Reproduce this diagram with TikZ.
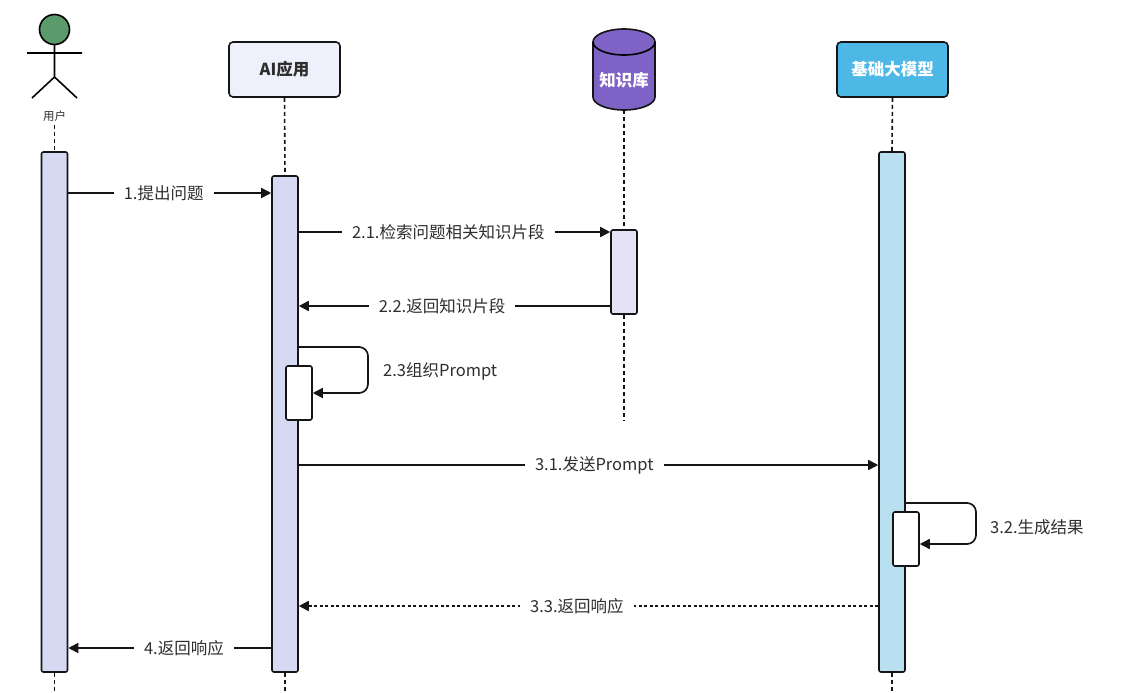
\documentclass[tikz,border=0pt]{standalone}
\usepackage{fontspec}
\setmainfont{Noto Sans CJK SC}
\usetikzlibrary{arrows.meta}
\definecolor{stroke}{HTML}{151515}
\definecolor{txt}{HTML}{2E2E2E}
\definecolor{headgreen}{HTML}{5B9A6B}
\definecolor{lav}{HTML}{D6D9F2}
\definecolor{aibox}{HTML}{EEF0FB}
\definecolor{kbpurple}{HTML}{7E62C6}
\definecolor{kbact}{HTML}{E7E1F8}
\definecolor{skyblue}{HTML}{4DB8E6}
\definecolor{skyact}{HTML}{B8E0F0}
\tikzset{
  act/.style={draw=stroke, line width=1.6pt, rounded corners=2pt, minimum width=26pt, inner sep=0pt},
  head/.style={draw=stroke, line width=1.6pt, rounded corners=4pt, minimum width=111pt, minimum height=55pt, font=\fontsize{16.5}{18}\selectfont\bfseries},
  life/.style={draw=stroke, line width=1.6pt, dash pattern=on 4pt off 3pt},
  msg/.style={draw=stroke, line width=1.7pt, -{Triangle[length=10pt,width=10pt]}},
  reply/.style={msg, dash pattern=on 3pt off 2.5pt},
  lbl/.style={fill=white, text=txt, inner xsep=10pt, inner ysep=2pt, font=\fontsize{16.5}{18}\selectfont},
  sidelbl/.style={text=txt, inner sep=0pt, anchor=west, font=\fontsize{16.5}{18}\selectfont}
}
\begin{document}
\begin{tikzpicture}[x=1pt,y=-1pt]
\useasboundingbox[fill=white] (0,0) rectangle (1122,693);

% actor
\draw[stroke, line width=1.6pt, fill=headgreen] (54.5,29.5) circle[radius=15pt];
\draw[stroke, line width=1.6pt] (54.5,44.5) -- (54.5,77) (27,53) -- (82,53)
  (32,98) -- (54.5,77) -- (77,98);
\node[text=txt, font=\fontsize{11.5}{12}\selectfont] (user) at (54.5,116) {用户};

% heads
\node[head, fill=aibox, text=txt] (ai) at (284.5,69.5) {AI应用};
\node[head, fill=skyblue, text=white] (llm) at (892.5,69.5) {基础大模型};

% knowledge base cylinder
\filldraw[draw=stroke, fill=kbpurple, line width=1.6pt]
  (593,42) -- (593,97) .. controls (593,104.2) and (607.1,110) .. (624,110)
  .. controls (640.9,110) and (655,104.2) .. (655,97) -- (655,42)
  .. controls (655,34.8) and (640.9,29) .. (624,29)
  .. controls (607.1,29) and (593,34.8) .. (593,42) -- cycle;
\draw[stroke, line width=1.6pt] (593,42) .. controls (593,49.2) and (607.1,55) .. (624,55)
  .. controls (640.9,55) and (655,49.2) .. (655,42);
\node[text=white, font=\fontsize{16.5}{18}\selectfont\bfseries] (kb) at (624,80) {知识库};
\coordinate (kbbot) at (624,110);

% activation bars
\node[act, fill=lav, minimum height=520pt] (uA) at (54.5,412) {};
\node[act, fill=lav, minimum height=496pt] (aA) at (285,424) {};
\node[act, fill=kbact, minimum height=84pt] (kA) at (624,272) {};
\node[act, fill=skyact, minimum height=520pt] (mA) at (892,412) {};

% lifelines
\draw[life] (user.south) -- (uA.north);
\draw[life] (uA.south) -- (54.5,693);
\draw[life] (ai.south) -- (aA.north);
\draw[life] (aA.south) -- (285,693);
\draw[life] (kbbot) -- (kA.north);
\draw[life] (kA.south) -- (624,420);
\draw[life] (llm.south) -- (mA.north);
\draw[life] (mA.south) -- (892,693);

% self activation boxes
\node[act, fill=white, minimum height=54pt] (aS) at (299,393) {};
\node[act, fill=white, minimum height=54pt] (mS) at (906,539) {};

% messages
\draw[msg] (uA.east |- 0,193) -- node[lbl, pos=0.47] {1.提出问题} (aA.west |- 0,193);
\draw[msg] (aA.east |- 0,232) -- node[lbl, pos=0.48] {2.1.检索问题相关知识片段} (kA.west |- 0,232);
\draw[msg] (kA.west |- 0,306) -- node[lbl, pos=0.54] {2.2.返回知识片段} (aA.east |- 0,306);
\draw[msg, rounded corners=9pt] (aA.east |- 0,347) -- (368,347) -- (368,393) -- (aS.east |- 0,393);
\node[sidelbl] (l23) at (383,371) {2.3组织Prompt};
\draw[msg] (aA.east |- 0,465) -- node[lbl, pos=0.51] {3.1.发送Prompt} (mA.west |- 0,465);
\draw[msg, rounded corners=9pt] (mA.east |- 0,503) -- (976,503) -- (976,544) -- (mS.east |- 0,544);
\node[sidelbl] (l32) at (990,527) {3.2.生成结果};
\draw[reply] (mA.west |- 0,606) -- node[lbl, pos=0.52] {3.3.返回响应} (aA.east |- 0,606);
\draw[msg] (aA.west |- 0,648) -- node[lbl, pos=0.43] {4.返回响应} (uA.east |- 0,648);
\end{tikzpicture}
\end{document}
